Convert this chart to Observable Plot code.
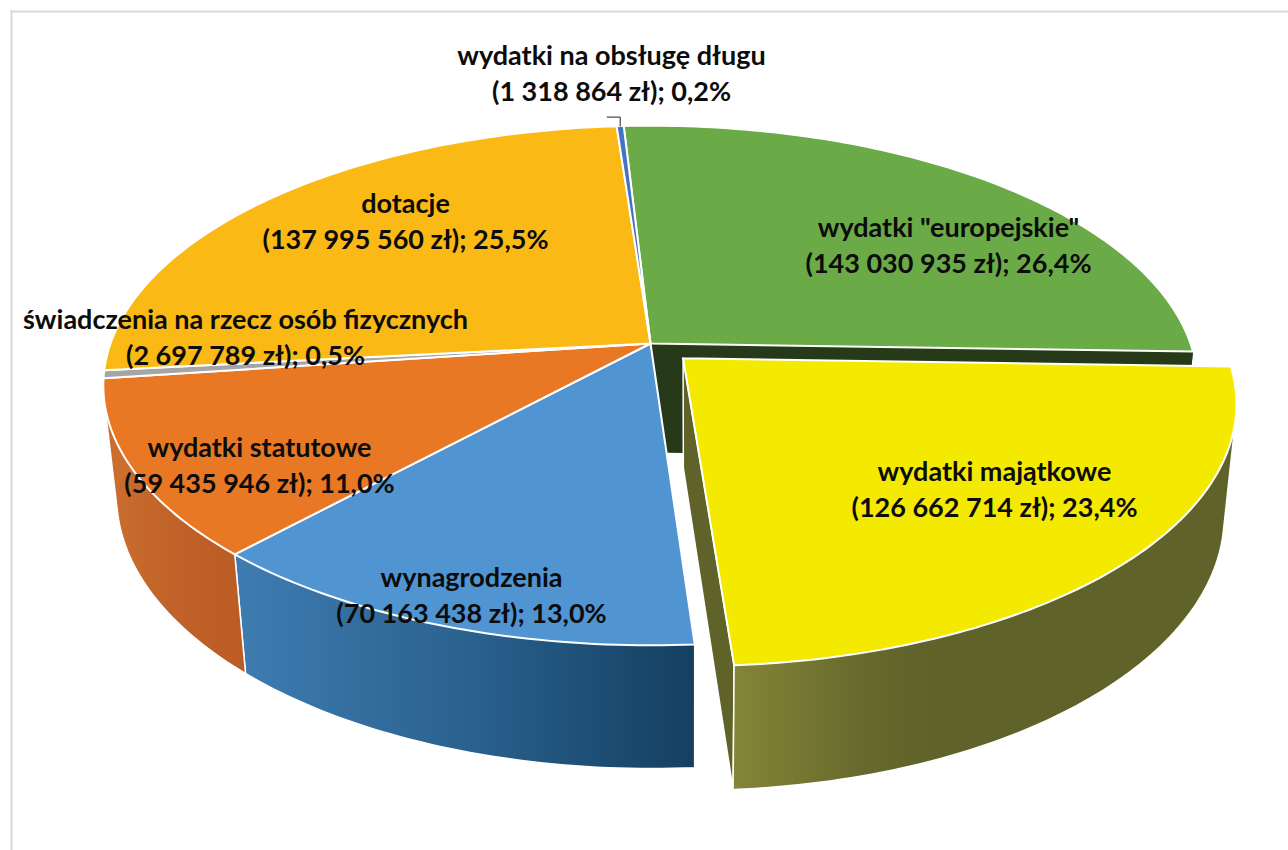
<!DOCTYPE html>
<html lang="pl">
<head>
<meta charset="utf-8">
<script src="https://cdn.jsdelivr.net/npm/d3@7"></script>
<script src="https://cdn.jsdelivr.net/npm/@observablehq/plot@0.6"></script>
<style>
html,body{margin:0;padding:0;background:#fff}
svg{display:block}
</style>
</head>
<body>
<div id="chart"></div>
<script>
const categories = ['wydatki "europejskie"', "wydatki majątkowe", "wynagrodzenia", "wydatki statutowe", "świadczenia na rzecz osób fizycznych", "dotacje", "wydatki na obsługę długu"];
const amounts = [143030935, 126662714, 70163438, 59435946, 2697789, 137995560, 1318864];
const percents = ["26,4%", "23,4%", "13,0%", "11,0%", "0,5%", "25,5%", "0,2%"];
const topColors = ["#6AAB47", "#F3EA00", "#5094D1", "#E97824", "#A5A5A5", "#FAB915", "#4472C4"];
const sideColors = ["#3F6A2B", "url(#sideYellow)", "url(#sideBlue)", "url(#sideOrange)", "#CB6E2E", "#CB6E2E", "#2C4C85"];
const sideStrokes = ["none", "white", "white", "white", "none", "none", "none"];
const exploded = [0, 0.083, 0, 0, 0, 0, 0];
const labelX = [948, 994, 471, 259, 245, 405, 611];
const labelY = [228, 472, 578, 448, 320, 204, 56];
const lineGap = 36;

const WIDTH = 1288, HEIGHT = 850, START = -3.3;
const topDisc = {cx: 650, cy: 343, a: 540, b: 253, k: 0.1616};
const baseDisc = {cx: 651, cy: 452, a: 528, b: 265.5, k: 0.16};
const project = (d, u, v) => {
  const w = 1 + d.k * v;
  return {x: d.cx + d.a * u / w, y: d.cy - d.b * v / w};
};
const total = d3.sum(amounts);
const rad = (deg) => deg * Math.PI / 180;
let acc = START;
const slices = amounts.map((value, i) => {
  const a0 = acc, a1 = acc + 360 * value / total;
  acc = a1;
  const mid = rad((a0 + a1) / 2);
  const e = exploded[i];
  const ox = e * Math.sin(mid), oy = e * Math.cos(mid);
  const arc = [];
  const n = Math.max(2, Math.ceil(a1 - a0));
  for (let j = 0; j <= n; j++) {
    const t = rad(a0 + (a1 - a0) * j / n);
    arc.push({u: ox + Math.sin(t), v: oy + Math.cos(t)});
  }
  return {i, ox, oy, arc, a0, a1};
});
const closed = (pts) => [...pts, pts[0]];
const topPoly = (s) => closed([project(topDisc, s.ox, s.oy), ...s.arc.map((p) => project(topDisc, p.u, p.v))]);
// the outer wall is the outline of the slice's top arc swept down to its base arc
const sidePoly = (s) => {
  const pts = [...s.arc.map((p) => project(topDisc, p.u, p.v)), ...s.arc.map((p) => project(baseDisc, p.u, p.v))];
  return closed(d3.polygonHull(pts.map((p) => [p.x, p.y])).map(([x, y]) => ({x, y})));
};
const wallPoly = (s, p) => closed([project(topDisc, s.ox, s.oy), project(topDisc, p.u, p.v), project(baseDisc, p.u, p.v), project(baseDisc, s.ox, s.oy)]);

const poly = (pts, fill, stroke = "white", strokeWidth = 1.5) => Plot.line(pts, {x: "x", y: "y", fill, stroke, strokeWidth, strokeLinejoin: "round"});
const [green, yellow] = slices;
const marks = [];
marks.push(Plot.ruleY([11], {x1: 10, x2: WIDTH, stroke: "#d9d9d9", strokeWidth: 2}));
marks.push(Plot.ruleX([11], {y1: 10, y2: HEIGHT, stroke: "#d9d9d9", strokeWidth: 2}));
// outer walls of the slices that stay in place
for (const s of slices) if (s.i !== 1) marks.push(poly(sidePoly(s), sideColors[s.i], sideStrokes[s.i]));
// inner wall of the green slice, left open by the exploded slice
marks.push(poly(wallPoly(green, green.arc[green.arc.length - 1]), "#263A1A", "none"));
// inner and outer walls of the exploded slice
marks.push(poly(wallPoly(yellow, yellow.arc[yellow.arc.length - 1]), "#5F6229"));
marks.push(poly(sidePoly(yellow), sideColors[1], sideStrokes[1]));
// top faces
for (const s of slices) if (s.i !== 1) marks.push(poly(topPoly(s), topColors[s.i], "white", 2));
marks.push(poly(topPoly(yellow), topColors[1], "white", 2));

// leader line of the smallest slice
const d = slices[6];
const tip = project(topDisc, Math.sin(rad((d.a0 + d.a1) / 2)), Math.cos(rad((d.a0 + d.a1) / 2)));
const leader = [{x: tip.x - 13, y: tip.y - 9}, {x: tip.x, y: tip.y - 9}, {x: tip.x, y: tip.y}];
marks.push(Plot.line(leader, {x: "x", y: "y", stroke: "#222", strokeWidth: 1}));

const fmt = d3.formatLocale({decimal: ",", thousands: " ", grouping: [3], currency: ["", ""]}).format(",d");
const textOpts = {x: "x", y: "y", text: "t", fontSize: 27, fontWeight: 700, fontFamily: "Lato, 'Open Sans', sans-serif", fill: "#0c0c0c", textAnchor: "middle", lineAnchor: "middle"};
const names = categories.map((t, i) => ({t, x: labelX[i], y: labelY[i]}));
const values = categories.map((_, i) => ({t: `(${fmt(amounts[i])} zł); ${percents[i]}`, x: labelX[i], y: labelY[i] + lineGap}));
marks.push(Plot.text(names, textOpts), Plot.text(values, textOpts));

const chart = Plot.plot({
  width: WIDTH, height: HEIGHT,
  margin: 0,
  x: {domain: [0, WIDTH], range: [0, WIDTH], axis: null},
  y: {domain: [0, HEIGHT], range: [0, HEIGHT], axis: null},
  style: {background: "white", overflow: "visible"},
  marks
});
const defs = d3.select(chart).insert("defs", ":first-child");
const gradient = (id, x1, x2, stops) => {
  const g = defs.append("linearGradient").attr("id", id).attr("gradientUnits", "userSpaceOnUse")
    .attr("x1", x1).attr("x2", x2).attr("y1", 0).attr("y2", 0);
  stops.forEach(([o, c]) => g.append("stop").attr("offset", o).attr("stop-color", c));
};
gradient("sideYellow", 733, 1240, [[0, "#858537"], [0.25, "#676A2D"], [0.4, "#5F6229"], [1, "#5F6229"]]);
gradient("sideBlue", 235, 695, [[0, "#3E7CB1"], [0.5, "#2A628F"], [1, "#143F60"]]);
gradient("sideOrange", 105, 245, [[0, "#CB6E2E"], [0.6, "#BE6028"], [1, "#BB5C24"]]);
document.getElementById("chart").append(chart);
</script>
</body>
</html>
